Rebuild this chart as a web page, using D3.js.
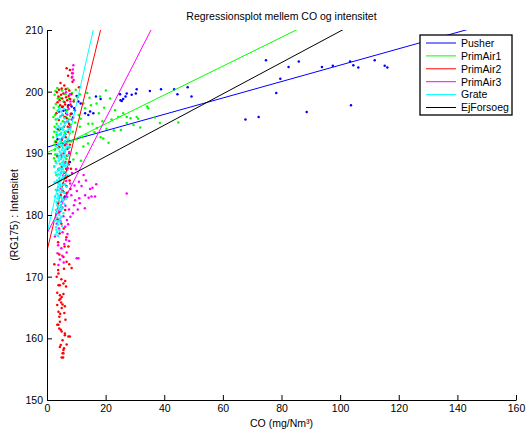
<!DOCTYPE html>
<html>
<head>
<meta charset="utf-8">
<script src="https://cdn.jsdelivr.net/npm/d3@7"></script>
<style>
  body { margin: 0; background: #fff; }
  text { font-family: "Liberation Sans", Arial, sans-serif; fill: #000; }
</style>
</head>
<body>
<div id="chart"></div>
<script>
// data: [CO, intensitet]
const seriesNames = ["Pusher", "PrimAir1", "PrimAir2", "PrimAir3", "Grate", "EjForsoeg"];
const seriesColors = ["#0000ff", "#00ff00", "#ff0000", "#ff00ff", "#00ffff", "#000000"];

// regression lines (intercept at CO=0, slope)
const lineIntercepts = [191.0, 190.1, 174.2, 177.0, 177.0, 184.4];
const lineSlopes = [0.133, 0.234, 1.96, 0.93, 2.09, 0.254];

const xTicks = [0, 20, 40, 60, 80, 100, 120, 140, 160];
const yTicks = [150, 160, 170, 180, 190, 200, 210];

const pusherPts = [
  [67.7,195.5],[72.2,195.9],[74.7,205.1],[79.6,202.1],[78.2,199.8],[82.4,204.0],[85.9,204.9],[88.6,196.7],
  [93.8,204.0],[97.5,204.2],[103.4,204.9],[103.7,197.8],[104.5,204.3],[106.2,203.9],[111.8,205.1],[115.2,204.2],
  [116.1,203.9],[48.0,200.7],[49.3,199.2],[43.4,200.4],[44.5,199.6],[38.9,200.4],[35.1,200.1],[30.6,200.4],
  [28.9,199.5],[26.8,199.2],[26.0,198.8],[24.9,199.6],[25.1,198.6],[27.2,199.7],[30.3,199.7],[25.5,198.5],
  [18.3,198.8],[16.7,199.2],[14.1,196.2],[15.8,196.5],[13.0,196.5],[11.5,198.1],[10.7,198.4],[9.5,197.0],
  [8.4,197.6],[6.6,196.5],[5.2,197.5],[7.1,195.2],[4.8,194.0],[6.2,193.1],[7.8,188.6],[6.7,183.5],
  [6.1,183.0],[5.5,191.5],[8.9,195.8],[4.1,196.8],[7.5,191.0],[3.6,192.3],[5.9,186.9],[7.3,197.8],
  [9.3,197.3],[6.5,197.0],[10.1,199.3],[8.4,196.4],[14.7,196.8],[5.6,196.9],[7.9,194.6]
];

const primAir1Pts = [
  [8.5,199.8],[9.2,198.7],[9.8,200.3],[10.4,199.1],[11.2,199.6],[12.4,198.1],[13.7,199.8],[14.5,199.0],
  [16.9,198.1],[18.1,199.2],[20.1,200.2],[17.7,196.5],[19.5,197.4],[21.5,198.9],[23.2,197.0],[24.3,195.9],
  [22.0,195.5],[20.3,194.0],[19.2,192.4],[18.3,192.6],[13.5,193.0],[11.2,194.3],[10.1,190.0],[12.4,191.1],
  [14.0,191.6],[12.1,192.6],[15.5,194.8],[16.2,193.4],[17.0,194.1],[27.2,194.9],[28.5,195.7],[30.6,195.9],
  [34.5,197.3],[36.8,195.8],[38.5,194.9],[44.8,195.0],[26.0,196.5],[25.2,193.8],[29.5,194.6],[31.8,194.2],
  [22.8,193.7],[21.0,191.7],[9.0,189.0],[8.8,193.5],[9.6,195.0],[10.8,196.2],[13.0,197.3],[15.0,197.8],
  [11.5,195.6],[14.1,194.8],[10.0,192.3],[11.6,188.8],[34.2,197.6],[27.2,195.9],[31.1,195.6],[18.9,195.2],
  [2.6,199.5],[3.0,198.0],[2.8,196.2],[3.3,194.8],[2.5,193.5],[3.1,192.0],[2.7,190.6],[3.4,189.5],
  [2.9,188.7],[3.8,191.3],[4.2,193.7],[3.6,196.9],[4.5,199.0],[5.1,200.2],[5.6,198.4],[6.3,199.6],
  [7.0,200.5],[7.5,198.9],[6.8,197.0],[7.9,196.1],[5.4,195.2],[6.1,193.4],[4.9,191.8],[5.8,190.2],
  [6.6,189.1],[7.2,191.0],[7.7,193.2],[8.1,194.6],[4.4,188.3],[3.9,187.5],[5.3,187.9],[6.9,187.3],
  [2.4,191.4],[2.2,195.9],[3.5,200.6],[4.0,197.5],[7.4,195.5],[8.3,191.9],[6.4,195.9],[5.0,189.4],
  [2.3,197.4],[2.6,194.3],[2.1,192.6],[2.8,189.8],[3.2,186.5],[2.5,187.9],[3.7,198.9],[2.9,200.1],
  [4.6,196.0],[3.3,193.0],[2.4,189.2],[3.0,195.5],[4.8,186.8],[2.7,191.9]
];

const primAir2Pts = [
  [6.7,203.8],[7.8,203.5],[8.6,203.0],[8.5,202.3],[8.7,201.6],[7.2,202.6],[4.6,201.4],[5.9,201.0],[6.4,200.4],
  [3.4,199.9],[3.9,199.2],[4.3,198.6],[4.8,199.5],[5.2,198.9],[5.6,199.7],[6.0,198.3],[6.5,199.1],[6.9,198.6],
  [7.4,199.3],[7.9,198.8],[8.3,199.6],[3.6,198.3],[4.5,197.8],[5.4,197.6],[6.2,197.9],[7.1,197.5],[8.0,197.9],
  [4.1,200.3],[5.0,200.5],[7.6,200.2],[10.9,200.7],[9.1,198.4],
  [3.2,196.5],[4.0,195.4],[5.3,196.2],[6.7,195.7],[7.5,194.8],[3.7,193.9],[4.6,193.1],[5.8,194.3],[6.4,192.6],
  [7.2,193.5],[3.1,191.8],[4.2,191.0],[5.1,192.2],[6.9,190.7],[7.8,191.4],[3.5,189.6],[4.8,189.1],[5.7,190.0],
  [6.3,188.6],[7.4,188.2],[3.9,187.3],[5.0,187.8],[6.0,186.9],[7.0,186.3],[4.4,185.6],[5.5,185.1],[6.6,184.7],
  [3.3,184.0],[4.7,183.2],[5.9,182.8],[3.8,181.9],[5.2,181.2],[4.1,180.4],[6.2,180.8],[8.2,187.5],[8.0,184.2],
  [6.8,189.6],[7.6,190.0],[6.1,191.3],[7.3,192.1],[6.5,187.5],[7.7,185.6],[6.9,183.6],[5.4,183.9],[6.4,186.0],
  [7.1,194.3],[6.0,195.9],[8.1,196.4],
  [3.6,179.3],[4.9,178.6],[5.7,177.8],[4.3,177.0],[6.6,176.4],[3.8,175.6],[7.3,174.9],[6.0,174.9],[4.2,173.6],
  [5.6,173.2],[2.5,172.0],[6.7,172.4],[8.4,171.4],[7.6,172.0],
  [3.3,170.0],[3.9,170.5],[3.9,168.6],[4.4,168.6],[5.6,168.9],[6.2,169.3],[3.5,167.4],[4.4,167.0],[4.2,166.2],
  [5.0,166.7],[5.6,167.2],[4.8,165.8],[3.5,165.4],[5.0,164.9],[3.9,164.3],[5.9,164.1],[6.1,165.2],[4.6,166.4],
  [5.3,165.5],[4.2,163.5],[4.4,162.7],[3.5,162.2],[3.9,162.2],[4.2,161.6],[5.0,161.1],[4.7,161.4],[6.1,160.8],
  [6.1,160.5],[7.3,160.3],[7.8,160.3],[5.3,159.7],[4.4,158.6],[4.7,158.9],[5.6,158.1],[5.8,158.4],[6.7,159.0],
  [5.3,157.6],[5.6,157.6],[5.0,156.9],[5.5,156.9],[6.3,163.0],[6.5,168.4],[4.9,169.6],[5.8,171.3],[3.8,171.1],
  [4.5,164.0]
];

const primAir3Pts = [
  [8.8,203.6],[8.8,203.0],[8.6,202.4],[9.1,201.9],[7.8,199.6],[8.0,198.4],[7.4,197.2],[6.9,196.3],[8.4,195.5],
  [7.9,194.2],[6.5,199.9],[6.1,195.0],[9.0,204.3],
  [5.2,192.4],[6.8,191.5],[7.6,190.2],[4.9,189.7],[6.0,188.3],[7.1,187.6],[8.5,186.8],[5.5,186.4],[6.5,185.5],
  [7.9,185.1],[4.7,184.3],[5.8,183.7],[6.9,182.9],[8.3,183.2],[9.4,184.8],[5.1,182.2],[6.3,181.5],[7.5,180.9],
  [4.5,180.6],[5.6,179.8],[6.8,179.2],
  [10.9,185.4],[14.7,184.2],[27.2,183.5],[13.0,183.2],[16.4,183.0],[15.2,183.0],[11.2,181.9],[12.5,186.5],
  [10.2,183.9],[9.6,182.4],[11.8,184.7],[14.2,182.8],[12.9,181.1],[9.9,187.4],[13.3,185.6],[16.8,185.0],
  [11.0,182.7],[15.5,184.4],[10.5,180.9],[9.2,181.6],[8.8,180.3],
  [3.3,178.6],[4.1,177.8],[5.3,177.2],[6.2,178.1],[7.0,176.9],[2.7,176.5],[7.6,175.8],[3.8,175.1],[4.9,174.6],
  [5.9,175.3],[3.6,173.8],[5.2,173.4],[6.7,173.9],[4.4,172.8],[3.9,171.9],[5.7,172.3],[10.1,173.0],[10.7,173.0],
  [6.5,176.0],[4.6,179.0],[7.2,178.5],[3.2,180.2],[8.0,179.7]
];

const gratePts = [
  [2.9,176.8],[3.4,177.2],[3.8,176.6],[4.3,177.5],[3.1,178.0],[3.7,178.4],[4.5,178.9],[5.1,178.2],[2.8,179.1],
  [3.5,179.6],[4.2,180.0],[4.9,179.7],[5.6,180.3],[3.0,180.8],[3.9,181.2],[4.6,181.6],[5.3,181.0],[6.0,181.8],
  [3.3,182.1],[4.1,182.5],[4.8,182.9],[5.5,182.3],[2.7,183.0],[3.6,183.4],[5.9,183.6],[6.4,182.6],
  [3.0,184.1],[3.8,184.5],[4.5,184.9],[5.2,184.3],[6.1,185.0],[6.7,184.6],[3.4,185.6],[4.2,186.0],[5.0,185.8],
  [5.7,186.3],[6.5,186.7],[2.9,186.9],[3.7,187.2],[4.4,187.6],[5.4,187.4],[6.2,187.9],[7.0,188.1],[3.2,188.4],
  [4.0,188.8],[4.8,189.1],[5.6,188.7],[6.3,189.4],[7.2,189.7],[3.5,189.9],
  [4.3,190.3],[5.1,190.6],[5.9,190.2],[6.6,190.9],[3.0,191.2],[3.8,191.6],[4.6,191.9],[5.4,191.4],[6.2,192.0],
  [7.0,192.3],[3.4,192.7],[4.1,193.0],[4.9,193.3],[5.7,192.8],[6.5,193.6],[7.4,193.9],[3.1,194.1],[3.9,194.4],
  [4.7,194.8],[5.5,194.2],[6.3,195.0],[7.1,195.3],[3.6,195.6],[4.4,195.9],[5.2,196.3],[6.0,195.7],[6.8,196.6],
  [4.0,197.0],[4.9,196.8],[5.8,197.2],
  [4.0,179.0],[4.7,180.8],[3.6,182.7],[5.0,183.8],[4.3,185.4],[3.5,186.4],[4.7,186.9],[5.9,188.2],[4.2,189.6],
  [5.5,190.9],[4.4,192.3],[5.1,194.0],[3.3,193.4],[6.0,193.1],[4.3,197.3],[6.7,188.5],[7.6,191.1],[2.6,185.3],
  [2.4,187.8],[7.5,186.4],
  [3.2,177.6],[3.6,178.9],[4.4,179.4],[3.3,180.4],[4.1,181.0],[4.9,181.3],[3.5,181.6],[4.4,182.1],[5.2,182.6],
  [3.9,183.1],[4.6,183.6],[4.0,184.0],[4.8,184.6],[5.6,184.9],[3.7,185.2],[4.6,185.6],[5.3,186.0],[4.0,186.6],
  [5.0,187.0],[4.2,187.4],[5.8,187.0],[4.6,188.2],[5.2,188.5],[3.8,189.3],[5.4,189.6],[4.7,190.0],[6.1,190.6],
  [4.0,190.8],[5.0,191.2],[5.8,191.8],[4.3,191.5],[5.3,192.6],[4.6,193.0],[5.6,193.8],[4.3,194.1],[6.0,194.5]
];

const pointSets = [pusherPts, primAir1Pts, primAir2Pts, primAir3Pts, gratePts];

const margin = {top: 30, right: 10, bottom: 29, left: 47};
const width = 526 - margin.left - margin.right;
const height = 429 - margin.top - margin.bottom;

const svg = d3.select("#chart")
    .append("svg")
    .attr("width", 526)
    .attr("height", 429)
    .append("g")
    .attr("transform", `translate(${margin.left},${margin.top})`);

const xScale = d3.scaleLinear().domain([0, 160]).range([0, width]);
const yScale = d3.scaleLinear().domain([150, 210]).range([height, 0]);

svg.append("clipPath")
    .attr("id", "plotclip")
    .append("rect")
    .attr("width", width)
    .attr("height", height);

const plot = svg.append("g").attr("clip-path", "url(#plotclip)");

// scatter then line for each series, same order as the plot
seriesNames.forEach(function(name, i) {
    if (pointSets[i]) {
        plot.append("g")
            .selectAll("circle")
            .data(pointSets[i])
            .enter().append("circle")
            .attr("cx", function(d) { return xScale(d[0]); })
            .attr("cy", function(d) { return yScale(d[1]); })
            .attr("r", 1.25)
            .attr("fill", seriesColors[i]);
    }
    plot.append("line")
        .attr("x1", xScale(0))
        .attr("y1", yScale(lineIntercepts[i]))
        .attr("x2", xScale(160))
        .attr("y2", yScale(lineIntercepts[i] + lineSlopes[i] * 160))
        .attr("stroke", seriesColors[i])
        .attr("stroke-width", 1);
});

const xAxis = d3.axisBottom(xScale)
    .tickValues(xTicks)
    .tickSizeInner(-5)
    .tickSizeOuter(0)
    .tickPadding(5);
const gx = svg.append("g")
    .attr("transform", "translate(0," + height + ")")
    .call(xAxis);

const yAxis = d3.axisLeft(yScale)
    .tickValues(yTicks)
    .tickSizeInner(-5)
    .tickSizeOuter(0)
    .tickPadding(4);
const gy = svg.append("g").call(yAxis);

[gx, gy].forEach(function(g) {
    g.selectAll("text").style("font-size", "10.5px").attr("fill", "#000")
        .style("font-family", "'Liberation Sans', Arial, sans-serif");
    g.selectAll("line").attr("stroke", "#000");
    g.select(".domain").attr("stroke", "#000");
});

svg.append("text")
    .attr("text-anchor", "middle")
    .attr("x", width / 2)
    .attr("y", -10)
    .style("font-size", "10.5px")
    .text("Regressionsplot mellem CO og intensitet");

svg.append("text")
    .attr("text-anchor", "middle")
    .attr("x", width / 2)
    .attr("y", height + 27)
    .style("font-size", "10.5px")
    .text("CO (mg/Nm³)");

svg.append("text")
    .attr("text-anchor", "middle")
    .attr("x", -(height / 2))
    .attr("y", -29)
    .attr("transform", "rotate(-90)")
    .style("font-size", "10.5px")
    .text("(RG175) : Intensitet");

// legend
const legend = svg.append("g")
    .attr("transform", "translate(" + (420 - margin.left) + "," + (35 - margin.top) + ")");

legend.append("rect")
    .attr("width", 92)
    .attr("height", 80)
    .attr("fill", "#fff")
    .attr("stroke", "#000")
    .attr("stroke-width", 1.3);

seriesNames.forEach(function(name, i) {
    const yy = 8 + i * 12.9;
    legend.append("line")
        .attr("x1", 6).attr("x2", 36)
        .attr("y1", yy).attr("y2", yy)
        .attr("stroke", seriesColors[i]);
    legend.append("text")
        .attr("x", 41)
        .attr("y", yy + 3.8)
        .style("font-size", "10.5px")
        .text(name);
});
</script>
</body>
</html>
